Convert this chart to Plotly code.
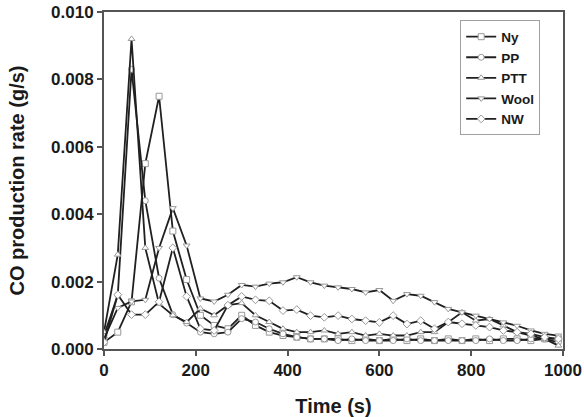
import plotly.graph_objects as go

time_s = list(range(0, 1000, 30))  # 0 .. 990

# CO production rate values in units of 0.001 g/s (scaled below)
ny = [0.2, 0.5, 1.4, 5.5, 7.5, 3.5, 2.06, 1.0, 0.7, 0.6, 1.0, 0.7, 0.5, 0.4, 0.35, 0.3,
      0.3, 0.3, 0.25, 0.3, 0.25, 0.3, 0.25, 0.3, 0.25, 0.3, 0.25, 0.3, 0.25, 0.3, 0.3, 0.25, 0.3, 0.3]
pp = [0.4, 1.6, 8.3, 4.4, 2.1, 1.02, 0.77, 0.5, 0.45, 0.5, 0.9, 0.8, 0.6, 0.45, 0.35, 0.3,
      0.3, 0.25, 0.3, 0.25, 0.25, 0.25, 0.3, 0.25, 0.25, 0.25, 0.25, 0.25, 0.3, 0.25, 0.25, 0.3, 0.3, 0.2]
ptt = [0.5, 2.8, 9.2, 3.0, 1.34, 1.0, 0.8, 1.2, 1.0, 1.3, 1.36, 1.0, 0.8, 0.6, 0.5, 0.5,
       0.55, 0.45, 0.5, 0.4, 0.45, 0.4, 0.4, 0.5, 0.5, 0.8, 1.09, 0.84, 0.89, 0.7, 0.5, 0.4, 0.3, 0.1]
wool = [0.3, 1.22, 1.41, 1.46, 3.0, 4.18, 3.07, 1.5, 1.41, 1.61, 1.9, 1.85, 1.94, 1.98, 2.13, 1.98,
        1.88, 1.83, 1.78, 1.68, 1.75, 1.43, 1.63, 1.58, 1.39, 1.19, 1.09, 0.99, 0.89, 0.79, 0.69, 0.55, 0.45, 0.4]
nw = [0.2, 1.61, 1.02, 1.02, 1.4, 3.0, 1.56, 0.6, 0.55, 1.3, 1.56, 1.46, 1.43, 1.14, 1.17, 0.99,
      0.94, 0.99, 0.89, 0.84, 0.79, 0.99, 0.74, 0.84, 0.6, 0.8, 0.75, 0.7, 0.65, 0.55, 0.5, 0.45, 0.35, 0.3]

series = [
    ("Ny", ny, "square"),
    ("PP", pp, "circle"),
    ("PTT", ptt, "triangle-up"),
    ("Wool", wool, "triangle-down"),
    ("NW", nw, "diamond"),
]

x_ticks = [0, 200, 400, 600, 800, 1000]
y_ticks = [0.000, 0.002, 0.004, 0.006, 0.008, 0.010]

fig = go.Figure()
for name, vals, sym in series:
    fig.add_trace(go.Scatter(
        x=time_s, y=[v / 1000 for v in vals], name=name, mode="lines+markers",
        line=dict(color="#202020", width=1.8),
        marker=dict(symbol=sym, size=6, color="white",
                    line=dict(color="#999999", width=1)),
    ))

font_family = "Liberation Sans, Arial, sans-serif"
fig.update_layout(
    width=584, height=417,
    margin=dict(l=104, r=21, t=12, b=68),
    paper_bgcolor="white", plot_bgcolor="white",
    font=dict(family=font_family, color="#1a1a1a", size=17, weight="bold"),
    showlegend=True,
    legend=dict(x=0.776, y=0.975, xanchor="left", yanchor="top",
                bgcolor="white", bordercolor="#a0a0a0", borderwidth=1,
                font=dict(size=13.5, family=font_family, weight="bold"),
                tracegroupgap=0),
)
fig.update_xaxes(
    range=[0, 1000], tickvals=x_ticks, ticktext=[str(v) for v in x_ticks],
    showline=True, linecolor="#555555", linewidth=2, mirror=True,
    ticks="outside", ticklen=5, tickwidth=1.5, tickcolor="#555555",
    showgrid=False, zeroline=False,
    title=dict(text="Time (s)", font=dict(size=20, weight="bold"), standoff=22),
    tickfont=dict(size=17, weight="bold"), automargin=False,
)
fig.update_yaxes(
    range=[0, 0.010], tickvals=y_ticks, ticktext=[f"{v:.3f}" for v in y_ticks],
    showline=True, linecolor="#555555", linewidth=2, mirror=True,
    ticks="outside", ticklen=5, tickwidth=1.5, tickcolor="#555555",
    showgrid=False, zeroline=False,
    title=dict(text="CO production rate (g/s)", font=dict(size=20, weight="bold"), standoff=21),
    tickfont=dict(size=17, weight="bold"), automargin=False,
)

fig.write_html("out.html")
